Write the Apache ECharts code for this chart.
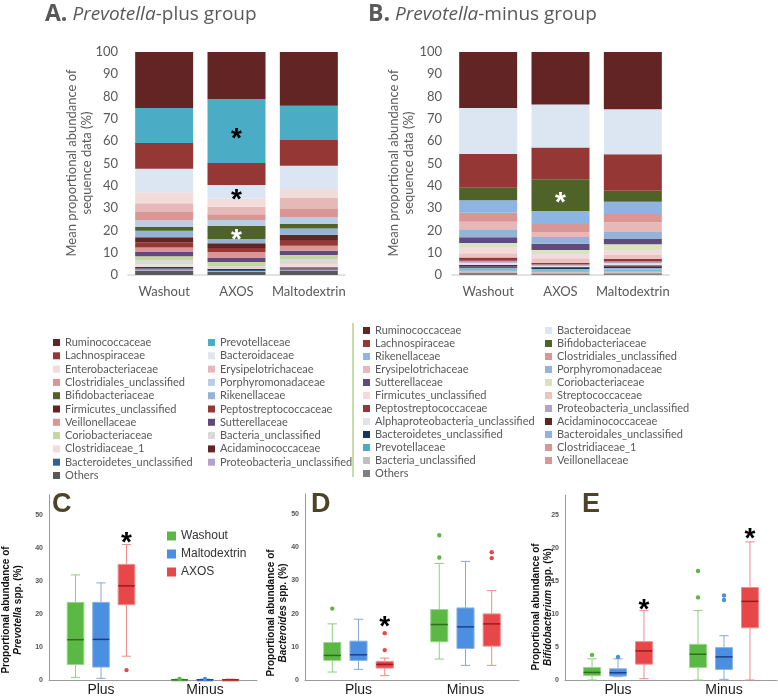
<!DOCTYPE html>
<html><head><meta charset="utf-8">
<script src="https://cdn.jsdelivr.net/npm/echarts@6/dist/echarts.min.js"></script>
<style>
html,body{margin:0;padding:0;background:#fff;}
.layer{position:absolute;left:0;top:0;width:778px;height:697px;}
</style></head><body>
<div id="cA" class="layer"></div>
<div id="cB" class="layer"></div>
<div id="cBox" class="layer"></div>
<script>
// ---------- Panel A / B: stacked bars (families listed top-to-bottom of the stack) ----------
const stackCats = ['Washout', 'AXOS', 'Maltodextrin'];

const famA = ['Ruminococcaceae','Prevotellaceae','Lachnospiraceae','Bacteroidaceae','Enterobacteriaceae','Erysipelotrichaceae','Clostridiales_unclassified','Porphyromonadaceae','Bifidobacteriaceae','Rikenellaceae','Firmicutes_unclassified','Peptostreptococcaceae','Veillonellaceae','Sutterellaceae','Coriobacteriaceae','Bacteria_unclassified','Clostridiaceae_1','Acidaminococcaceae','Bacteroidetes_unclassified','Proteobacteria_unclassified','Others'];
const colA = ['#632523','#4bacc6','#953735','#dce6f2','#f2dcdb','#e6b9b8','#d99694','#b9cde5','#4f6228','#95b3d7','#632523','#953735','#d99694','#604a7b','#c3d69b','#d9d9d9','#f2dcdb','#632523','#376092','#b3a2c7','#595959'];
const aWashout = [25.1,15.7,11.6,10.5,4.9,3.9,3.7,3.0,1.8,2.9,2.3,2.3,2.0,1.9,1.8,1.9,1.1,0.6,0.5,0.6,1.9];
const aAxos    = [21.1,28.7,9.8,6.2,3.6,3.4,2.5,2.6,6.0,1.9,2.1,1.8,2.7,1.8,1.8,0.9,0.3,0.6,0.4,0.3,1.5];
const aMalto   = [24.1,15.4,11.5,10.4,4.1,4.9,3.6,3.1,2.0,2.8,2.4,2.6,2.2,1.9,1.8,2.3,1.4,0.6,0.6,0.5,1.8];
const starsA = [['Prevotellaceae','AXOS'],['Bacteroidaceae','AXOS'],['Bifidobacteriaceae','AXOS']];

const famB = ['Ruminococcaceae','Bacteroidaceae','Lachnospiraceae','Bifidobacteriaceae','Rikenellaceae','Clostridiales_unclassified','Erysipelotrichaceae','Porphyromonadaceae','Sutterellaceae','Coriobacteriaceae','Firmicutes_unclassified','Streptococcaceae','Peptostreptococcaceae','Proteobacteria_unclassified','Alphaproteobacteria_unclassified','Acidaminococcaceae','Bacteroidetes_unclassified','Bacteroidales_unclassified','Prevotellaceae','Clostridiaceae_1','Bacteria_unclassified','Veillonellaceae','Others'];
const colB = ['#632523','#dce6f2','#953735','#4f6228','#8eb4e3','#d99694','#e6b9b8','#95b3d7','#604a7b','#d7e4bd','#f2dcdb','#ebc3c2','#953735','#b3a2c7','#e6e0ec','#632523','#17375e','#8eb4e3','#4bacc6','#d99694','#bfbfbf','#d99694','#7f7f7f'];
const bWashout = [25.1,20.6,15.2,5.6,5.6,4.0,3.4,3.6,2.6,2.1,2.5,1.9,1.4,0.9,1.0,0.7,0.6,0.6,0.6,0.4,0.4,0.3,0.9];
const bAxos    = [23.5,19.3,14.3,14.2,5.8,3.6,2.3,3.0,2.8,1.8,1.9,2.0,0.8,0.6,0.5,0.4,0.5,0.6,0.5,0.4,0.3,0.3,0.6];
const bMalto   = [25.7,20.2,16.3,4.9,5.5,3.8,4.3,3.2,2.3,2.6,2.2,1.8,1.2,0.7,0.9,0.7,0.6,0.6,0.6,0.4,0.4,0.3,0.8];
const starsB = [['Bifidobacteriaceae','AXOS']];

const stackTicks = [0,10,20,30,40,50,60,70,80,90,100];

// ---------- Panels C / D / E: box plots ----------
const boxGroups = ['Plus', 'Minus'];
const treatments = ['Washout', 'Maltodextrin', 'AXOS'];
// each entry: [min, Q1, median, Q3, max] for Plus, Minus
const prevWashout = [[0.8,4.7,12.2,23.5,31.8],[0,0,0.05,0.15,0.3]];
const prevMalto   = [[0.5,3.9,12.3,23.5,29.4],[0,0,0.05,0.15,0.3]];
const prevAxos    = [[7.2,22.8,28.5,35.0,41.0],[0,0,0.05,0.15,0.3]];
const prevOutliers = [[0,1,0.3],[1,1,0.3],[2,0,3.0]];      // [treatment, group, value]
const prevStars = [[2,0,43.4]];

const bactWashout = [[2.4,5.9,7.4,11.3,16.9],[6.3,11.5,16.7,21.2,35.1]];
const bactMalto   = [[3.2,5.9,7.6,11.7,18.3],[4.4,9.5,16.0,21.7,35.7]];
const bactAxos    = [[1.3,3.6,4.7,5.6,6.6],[4.4,10.2,16.9,19.9,26.9]];
const bactOutliers = [[0,0,21.5],[2,0,9.0],[2,0,14.1],[0,1,36.9],[0,1,43.6],[2,1,36.7],[2,1,38.5]];
const bactStars = [[2,0,18.0]];

const bifWashout = [[0,0.65,1.15,1.9,3.2],[0,1.9,3.9,5.4,10.5]];
const bifMalto   = [[0.5,0.6,1.1,1.7,3.2],[0.1,1.6,3.5,4.9,6.7]];
const bifAxos    = [[0.2,2.4,4.4,5.8,10.5],[0,7.9,11.9,14.0,20.9]];
const bifOutliers = [[0,0,3.8],[1,0,3.5],[0,1,12.5],[0,1,16.5],[1,1,12.1],[1,1,12.8]];
const bifStars = [[2,0,11.6],[2,1,22.3]];

// ================= drawing =================
const GRAY = '#595959';
function isDark(hex) {
  const n = parseInt(hex.slice(1), 16);
  const r = n >> 16, g = (n >> 8) & 255, b = n & 255;
  return (0.299 * r + 0.587 * g + 0.114 * b) < 110;
}

function stackOption(cfg) {
  const series = [];
  for (let i = cfg.fams.length - 1; i >= 0; i--) {
    const name = cfg.fams[i];
    series.push({
      type: 'bar', name: name, stack: 'all', barWidth: 58,
      itemStyle: {color: cfg.colors[i]},
      emphasis: {disabled: true},
      data: cfg.cats.map((c, j) => {
        const v = cfg.values[j][i];
        const st = cfg.stars.find(s => s[0] === name && s[1] === c);
        if (!st) return v;
        return {value: v, label: {show: true, formatter: '*', position: 'inside',
          color: isDark(cfg.colors[i]) ? '#ffffff' : '#000000',
          fontSize: 28, fontWeight: 'bold', fontFamily: 'Liberation Sans', offset: [0, 8]}};
      })
    });
  }
  const col1 = cfg.fams.filter((f, k) => k % 2 === 0);
  const col2 = cfg.fams.filter((f, k) => k % 2 === 1);
  const legendBase = {orient: 'vertical', icon: 'rect', itemWidth: 7, itemHeight: 7, padding: 0,
    selectedMode: false, itemGap: cfg.legendGap,
    textStyle: {fontSize: 11, color: GRAY, fontFamily: 'Lato', lineHeight: 13}};
  return {
    animation: false,
    title: {text: cfg.title, left: cfg.titleLeft, top: 3, padding: 0,
      textStyle: {fontWeight: 'normal', rich: {
        b: {fontSize: 23, fontWeight: 'bold', color: GRAY, fontFamily: 'Open Sans'},
        i: {fontSize: 19, fontWeight: 'normal', fontStyle: 'italic', color: GRAY, fontFamily: 'Open Sans'},
        n: {fontSize: 19, fontWeight: 'normal', color: GRAY, fontFamily: 'Open Sans'}
      }}},
    grid: {left: cfg.gridLeft, top: 52, width: 217, height: 223},
    xAxis: {type: 'category', data: cfg.cats,
      axisLine: {lineStyle: {color: '#d9d9d9', width: 1.5}}, axisTick: {show: false},
      axisLabel: {interval: 0, fontSize: 13, color: GRAY, fontFamily: 'Lato', margin: 10}},
    yAxis: {type: 'value', min: stackTicks[0], max: stackTicks[stackTicks.length - 1], interval: 10,
      axisLine: {show: false}, axisTick: {show: false}, splitLine: {show: false},
      axisLabel: {fontSize: 13, color: GRAY, fontFamily: 'Lato', margin: 10}},
    legend: [
      Object.assign({}, legendBase, {left: cfg.leg1[0], top: cfg.leg1[1], data: col1}),
      Object.assign({}, legendBase, {left: cfg.leg2[0], top: cfg.leg2[1], data: col2})
    ],
    graphic: cfg.graphic,
    series: series
  };
}

const chartA = echarts.init(document.getElementById('cA'));
chartA.setOption(stackOption({
  fams: famA, colors: colA, cats: stackCats, values: [aWashout, aAxos, aMalto], stars: starsA,
  title: '{b|A.} {i|Prevotella}{n|-plus group}', titleLeft: 45, gridLeft: 128,
  leg1: [53, 336], leg2: [208, 336], legendGap: 0.3,
  graphic: [
    {type: 'text', x: 79, y: 163, rotation: Math.PI / 2,
      style: {text: 'Mean proportional abundance of\nsequence data (%)', fill: GRAY, font: '13px Lato',
        align: 'center', verticalAlign: 'middle', textAlign: 'center', textVerticalAlign: 'middle', lineHeight: 15}},
    {type: 'line', shape: {x1: 353, y1: 323, x2: 353, y2: 477}, style: {stroke: '#b3d28c', lineWidth: 1.5}}
  ]
}));

const chartB = echarts.init(document.getElementById('cB'));
chartB.setOption(stackOption({
  fams: famB, colors: colB, cats: stackCats, values: [bWashout, bAxos, bMalto], stars: starsB,
  title: '{b|B.} {i|Prevotella}{n|-minus group}', titleLeft: 368, gridLeft: 452,
  leg1: [363, 324], leg2: [545, 324], legendGap: 0,
  graphic: [
    {type: 'text', x: 401, y: 163, rotation: Math.PI / 2,
      style: {text: 'Mean proportional abundance of\nsequence data (%)', fill: GRAY, font: '13px Lato',
        align: 'center', verticalAlign: 'middle', textAlign: 'center', textVerticalAlign: 'middle', lineHeight: 15}}
  ]
}));

// ---------- box plots ----------
const PAL = [
  {fill: '#5cb844', border: '#9dd58b', whisker: '#8fcf7f', median: '#2f6e1f'},
  {fill: '#4a8fe0', border: '#8fb3e6', whisker: '#8aa6d8', median: '#1c3f8c'},
  {fill: '#e8474a', border: '#f08c8c', whisker: '#ee8a8a', median: '#9b1b1b'}
];
function xOf(api, g, t) {
  const band = api.size([1, 0])[0];
  const base = api.coord([g, 0])[0];
  return {cx: base + (t - 1) * band * 0.245, w: band * 0.16};
}
function boxSeries(panelIdx, t, stats) {
  const p = PAL[t];
  return {
    type: 'custom', name: treatments[t], xAxisIndex: panelIdx, yAxisIndex: panelIdx,
    itemStyle: {color: p.fill},
    encode: {x: 0, y: [1, 2, 3, 4, 5]},
    data: stats.map((s, g) => [g].concat(s)),
    renderItem: function (params, api) {
      const g = api.value(0);
      const v = [1, 2, 3, 4, 5].map(k => api.value(k));
      const {cx, w} = xOf(api, g, t);
      const y = val => api.coord([g, val])[1];
      const cap = w * 0.55;
      const ln = (x1, y1, x2, y2, c, lw) => ({type: 'line', shape: {x1, y1, x2, y2}, style: {stroke: c, lineWidth: lw}});
      return {type: 'group', children: [
        ln(cx, y(v[0]), cx, y(v[1]), p.whisker, 1),
        ln(cx, y(v[3]), cx, y(v[4]), p.whisker, 1),
        ln(cx - cap / 2, y(v[0]), cx + cap / 2, y(v[0]), p.whisker, 1),
        ln(cx - cap / 2, y(v[4]), cx + cap / 2, y(v[4]), p.whisker, 1),
        {type: 'rect', shape: {x: cx - w / 2, y: y(v[3]), width: w, height: Math.max(y(v[1]) - y(v[3]), 1.5)},
          style: {fill: p.fill, stroke: p.border, lineWidth: 1}},
        ln(cx - w / 2, y(v[2]), cx + w / 2, y(v[2]), p.median, 1.5)
      ]};
    }
  };
}
function pointSeries(panelIdx, pts) {
  return {
    type: 'custom', xAxisIndex: panelIdx, yAxisIndex: panelIdx, encode: {x: 1, y: 2},
    data: pts,
    renderItem: function (params, api) {
      const t = api.value(0), g = api.value(1);
      const {cx} = xOf(api, g, t);
      const cy = api.coord([g, api.value(2)])[1];
      return {type: 'circle', shape: {cx: cx, cy: cy, r: 2.2}, style: {fill: PAL[t].fill}};
    }
  };
}
function starSeries(panelIdx, pts) {
  return {
    type: 'custom', xAxisIndex: panelIdx, yAxisIndex: panelIdx, encode: {x: 1, y: 2},
    data: pts,
    renderItem: function (params, api) {
      const t = api.value(0), g = api.value(1);
      const {cx} = xOf(api, g, t);
      const cy = api.coord([g, api.value(2)])[1];
      return {type: 'text', x: cx, y: cy + 7,
        style: {text: '*', fill: '#000', font: 'bold 28px "Liberation Sans"', align: 'center', verticalAlign: 'middle',
          textAlign: 'center', textVerticalAlign: 'middle'}};
    }
  };
}

const panels = [
  {grid: {left: 49, top: 495, width: 208, height: 187}, max: 56, ticks: 10, stats: [prevWashout, prevMalto, prevAxos], out: prevOutliers, stars: prevStars},
  {grid: {left: 305, top: 494, width: 214, height: 188}, max: 56, ticks: 10, stats: [bactWashout, bactMalto, bactAxos], out: bactOutliers, stars: bactStars},
  {grid: {left: 565, top: 495, width: 212, height: 185}, max: 28, ticks: 5, stats: [bifWashout, bifMalto, bifAxos], out: bifOutliers, stars: bifStars}
];
const boxSeriesAll = [];
panels.forEach((pn, i) => {
  pn.stats.forEach((st, t) => boxSeriesAll.push(boxSeries(i, t, st)));
  boxSeriesAll.push(pointSeries(i, pn.out));
  boxSeriesAll.push(starSeries(i, pn.stars));
});

const yTitleRich = {
  b: {fontSize: 10, fontWeight: 'bold', fill: '#111', fontFamily: 'Liberation Sans'},
  i: {fontSize: 10, fontWeight: 'bold', fontStyle: 'italic', fill: '#111', fontFamily: 'Liberation Sans'}
};
function yTitle(x, y, genus) {
  return {type: 'text', x: x, y: y, rotation: Math.PI / 2,
    style: {text: '{b|Proportional abundance of}\n{i|' + genus + '}{b| spp. (%)}', rich: yTitleRich,
      align: 'center', verticalAlign: 'middle', textAlign: 'center', textVerticalAlign: 'middle', lineHeight: 12}};
}
function letter(x, txt) {
  return {type: 'text', x: x, y: 505,
    style: {text: txt, fill: '#4d4428', font: 'bold 27px "Liberation Sans"', verticalAlign: 'middle', textVerticalAlign: 'middle'}};
}

const chartBox = echarts.init(document.getElementById('cBox'));
chartBox.setOption({
  animation: false,
  grid: panels.map(p => p.grid),
  xAxis: panels.map((p, i) => ({type: 'category', gridIndex: i, data: boxGroups,
    axisLine: {lineStyle: {color: '#9a9a9a', width: 1}}, axisTick: {show: false},
    axisLabel: {interval: 0, fontSize: 14, color: '#1a1a1a', fontFamily: 'Liberation Sans', margin: 3}})),
  yAxis: panels.map((p, i) => ({type: 'value', gridIndex: i, min: 0, max: p.max, interval: p.ticks,
    axisLine: {show: true, lineStyle: {color: '#9a9a9a', width: 1}}, axisTick: {show: false}, splitLine: {show: false},
    axisLabel: {fontSize: 7, color: '#555', fontWeight: 'bold', fontFamily: 'Liberation Sans', margin: 6, showMaxLabel: false}})),
  legend: {left: 167, top: 529, orient: 'vertical', icon: 'rect', itemWidth: 9, itemHeight: 9, itemGap: 4, padding: 0,
    selectedMode: false,
    data: treatments.map((t, k) => ({name: t, itemStyle: {color: PAL[k].fill}})),
    textStyle: {fontSize: 12, color: '#333', fontFamily: 'Liberation Sans', lineHeight: 14}},
  graphic: [
    yTitle(12.5, 610, 'Prevotella'),
    yTitle(277.5, 613, 'Bacteroides'),
    yTitle(542.5, 607, 'Bifidobacterium'),
    letter(52, 'C'), letter(311, 'D'), letter(582, 'E')
  ],
  series: boxSeriesAll
});
</script>
</body></html>
